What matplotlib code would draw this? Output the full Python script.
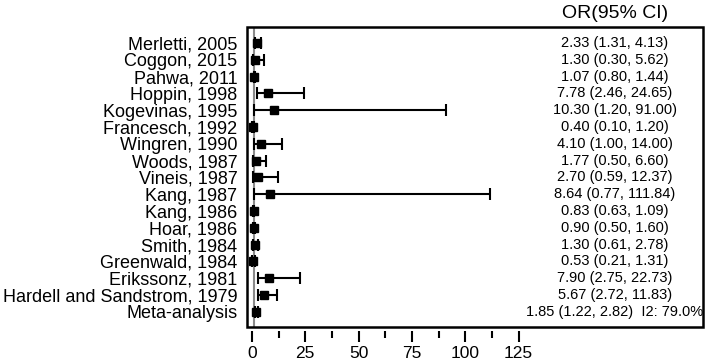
import matplotlib
matplotlib.use("Agg")
import matplotlib.pyplot as plt
from matplotlib.patches import Rectangle
from matplotlib.ticker import MultipleLocator, FixedLocator

plt.rcParams['font.family'] = ['Liberation Sans', 'DejaVu Sans']

studies = ["Merletti, 2005", "Coggon, 2015", "Pahwa, 2011", "Hoppin, 1998",
           "Kogevinas, 1995", "Francesch, 1992", "Wingren, 1990", "Woods, 1987",
           "Vineis, 1987", "Kang, 1987", "Kang, 1986", "Hoar, 1986",
           "Smith, 1984", "Greenwald, 1984", "Erikssonz, 1981",
           "Hardell and Sandstrom, 1979", "Meta-analysis"]
odds = [2.33, 1.30, 1.07, 7.78, 10.30, 0.40, 4.10, 1.77, 2.70, 8.64,
        0.83, 0.90, 1.30, 0.53, 7.90, 5.67, 1.85]
lower = [1.31, 0.30, 0.80, 2.46, 1.20, 0.10, 1.00, 0.50, 0.59, 0.77,
         0.63, 0.50, 0.61, 0.21, 2.75, 2.72, 1.22]
upper = [4.13, 5.62, 1.44, 24.65, 91.00, 1.20, 14.00, 6.60, 12.37, 111.84,
         1.09, 1.60, 2.78, 1.31, 22.73, 11.83, 2.82]
i2_text = "I2: 79.0%"
xticks = [0, 25, 50, 75, 100, 125]
minor_xticks = [12.5, 37.5, 62.5, 87.5, 112.5]

fig = plt.figure(figsize=(7.08, 3.61), dpi=100)
ax = fig.add_axes([247/708, 1-327/361, (703-247)/708, (327-27)/361])

ypos = list(range(len(studies)))
ax.axvline(1, color="#8a8a8a", lw=1.5, zorder=1)
xerr = [[o - l for o, l in zip(odds, lower)], [u - o for o, u in zip(odds, upper)]]
ax.errorbar(odds, ypos, xerr=xerr, fmt="s", color="black", ms=5.8,
            elinewidth=1.5, capsize=4.5, capthick=1.5, zorder=3)

ax.set_xlim(-2.3, 211.5)
ax.set_ylim(16.9, -0.95)
ax.set_yticks(ypos)
ax.set_yticklabels(studies, fontsize=13)
ax.tick_params(axis="y", length=0, pad=7)

ax.xaxis.set_major_locator(FixedLocator(xticks))
ax.xaxis.set_minor_locator(FixedLocator(minor_xticks))
ax.tick_params(axis="x", which="major", length=8, width=1.5, labelsize=12.5, pad=3)
ax.tick_params(axis="x", which="minor", length=5, width=1.5)

for s in ["top", "right", "left"]:
    ax.spines[s].set_visible(False)
ax.spines["bottom"].set_position(("outward", 3))
ax.spines["bottom"].set_color("none")
ax.add_patch(Rectangle((0, 0), 1, 1, transform=ax.transAxes, fill=False,
                       lw=1.8, edgecolor="black", clip_on=False, zorder=5))

tr = ax.get_yaxis_transform()
xc = (615 - 247) / (703 - 247)
for i, (o, l, u) in enumerate(zip(odds, lower, upper)):
    txt = f"{o:.2f} ({l:.2f}, {u:.2f})"
    if i == len(odds) - 1:
        txt += "  " + i2_text
    ax.text(xc, i, txt, transform=tr, ha="center", va="center", fontsize=10.5)

fig.text(615/708, 1 - 14/361, "OR(95% CI)", ha="center", va="center", fontsize=14)

fig.savefig("out.png", dpi=100)
